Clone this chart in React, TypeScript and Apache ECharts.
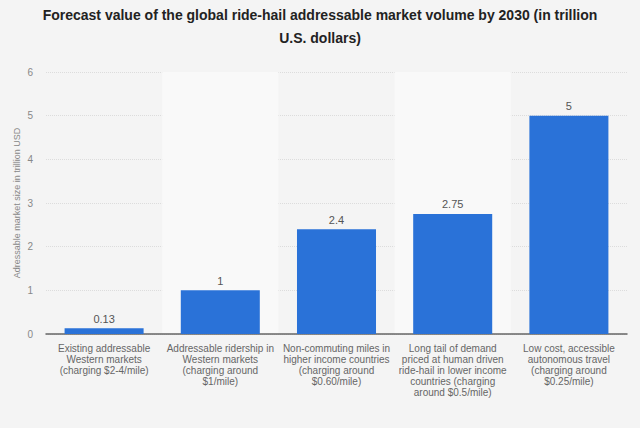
import React, { useEffect, useRef } from "react";
import * as echarts from "echarts";

const categories = [
  "Existing addressable\nWestern markets\n(charging $2-4/mile)",
  "Addressable ridership in\nWestern markets\n(charging around\n$1/mile)",
  "Non-commuting miles in\nhigher income countries\n(charging around\n$0.60/mile)",
  "Long tail of demand\npriced at human driven\nride-hail in lower income\ncountries (charging\naround $0.5/mile)",
  "Low cost, accessible\nautonomous travel\n(charging around\n$0.25/mile)",
];
const values = [0.13, 1, 2.4, 2.75, 5];
const titleText =
  "Forecast value of the global ride-hail addressable market volume by 2030 (in trillion\nU.S. dollars)";
const yAxisName = "Adressable market size in trillion USD";

const FONT = "'Liberation Sans', Arial, sans-serif";

export default function App() {
  const ref = useRef<HTMLDivElement>(null);
  useEffect(() => {
    if (!ref.current) return;
    const chart = echarts.init(ref.current, undefined, { renderer: "svg" });
    chart.setOption({
      animation: false,
      backgroundColor: "#f4f4f4",
      textStyle: { fontFamily: FONT },
      title: {
        text: titleText,
        left: "center",
        top: 3,
        padding: 0,
        textStyle: {
          fontSize: 14,
          fontWeight: "bold",
          color: "#222",
          lineHeight: 23,
          fontFamily: FONT,
        },
      },
      grid: {
        left: 46,
        right: 13,
        top: 72,
        bottom: 94,
        containLabel: false,
        outerBoundsMode: "none",
      },
      xAxis: {
        type: "category",
        data: categories,
        axisTick: { show: false },
        axisLine: { lineStyle: { color: "#666", width: 1.5 } },
        axisLabel: {
          interval: 0,
          color: "#666",
          fontSize: 10,
          lineHeight: 11,
          margin: 9,
          align: "center",
          fontFamily: FONT,
        },
        splitArea: {
          show: true,
          areaStyle: { color: ["rgba(0,0,0,0)", "#f9f9f9"] },
        },
      },
      yAxis: {
        type: "value",
        min: 0,
        max: 6,
        interval: 1,
        name: yAxisName,
        nameLocation: "middle",
        nameGap: 25,
        nameMoveOverlap: false,
        nameTextStyle: { color: "#888", fontSize: 9, fontFamily: FONT },
        axisLabel: { color: "#888", fontSize: 10, margin: 13, fontFamily: FONT },
        axisLine: { show: false },
        axisTick: { show: false },
        splitLine: { lineStyle: { color: "#dcdcdc", type: "dotted", width: 1 } },
      },
      series: [
        {
          type: "bar",
          data: values,
          barWidth: "68%",
          itemStyle: { color: "#2a72d8" },
          label: {
            show: true,
            position: "top",
            color: "#555",
            fontSize: 11,
            distance: 4,
            fontFamily: FONT,
          },
        },
      ],
    });
    return () => chart.dispose();
  }, []);
  return (
    <div
      ref={ref}
      style={{ position: "fixed", left: 0, top: 0, width: 640, height: 428 }}
    />
  );
}
